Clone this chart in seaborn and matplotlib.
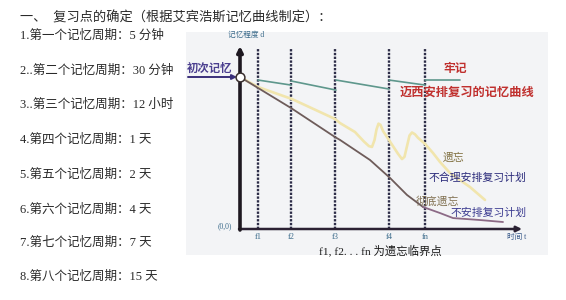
import matplotlib
matplotlib.use("Agg")
import matplotlib.pyplot as plt
import seaborn as sns
import pandas as pd

# ---------------- data ----------------
title_text = "一、  复习点的确定（根据艾宾浩斯记忆曲线制定）："
cycle_labels = [
    "1.第一个记忆周期：5 分钟",
    "2..第二个记忆周期：30 分钟",
    "3..第三个记忆周期：12 小时",
    "4.第四个记忆周期：1 天",
    "5.第五个记忆周期：2 天",
    "6.第六个记忆周期：4 天",
    "7.第七个记忆周期：7 天",
    "8.第八个记忆周期：15 天",
]

crit_t = [1.8, 5.1, 9.5, 14.9, 18.5]
crit_labels = ["f1", "f2", "f3", "f4", "fn"]

# no review plan (brown -> mauve)
no_review_t = [0, 1.8, 5.1, 9.5, 10.0, 13.0, 15.0, 16.7, 18.3]
no_review_d = [100, 92.8, 79.6, 60.5, 58.6, 45.4, 33.6, 22.4, 14.5]
no_review_tail_t = [18.3, 20.0, 21.3, 24.0, 26.3]
no_review_tail_d = [14.5, 10.5, 7.2, 5.9, 4.6]

# unreasonable review plan (yellow)
bad_review_t = [0, 1.8, 5.2, 9.5, 10.0, 11.5, 12.4, 12.9, 13.2, 13.45, 13.65, 13.85, 14.05,
                14.3, 14.7, 15.2, 15.8, 16.2, 16.45, 16.7, 16.95, 17.2, 17.5, 17.8,
                18.5, 19.3, 20.0, 21.0, 23.0, 24.5]
bad_review_d = [100, 93.4, 85.5, 72.4, 69.7, 63.8, 57.5, 54.5, 54.0, 58.5, 65.5, 69.3, 68.5,
                64.5, 60.5, 55.5, 49.5, 46.0, 47.5, 54.5, 61.5, 63.5, 62.3, 60.0,
                56.0, 50.0, 44.1, 36.8, 27.6, 19.1]

# planned review (teal saw-tooth segments)
planned_t = [1.8, 5.1, 5.1, 9.6, 9.6, 14.9, 14.9, 18.5, 18.5, 22.0]
planned_d = [98.0, 94.7, 97.4, 91.4, 98.0, 92.1, 98.0, 94.7, 98.0, 98.0]
planned_seg = [1, 1, 2, 2, 3, 3, 4, 4, 5, 5]

# ---------------- style ----------------
sns.set_theme(style="white")
plt.rcParams["font.family"] = ["Liberation Serif", "Noto Sans CJK SC", "DejaVu Sans"]
CJK = ["Liberation Serif", "Noto Sans CJK SC", "DejaVu Sans"]

W, H = 566, 300
fig = plt.figure(figsize=(W / 100, H / 100), dpi=100)
fig.patch.set_facecolor("white")

# left text block
fig.text(20 / W, 1 - 18 / H, title_text, fontsize=9.5, color="#2a2a2a",
         va="center", ha="left", family=CJK)
line_y = [36, 71, 105, 140, 175, 210, 243, 277]
for txt, y in zip(cycle_labels, line_y):
    fig.text(20 / W, 1 - y / H, txt, fontsize=9, color="#2a2a2a",
             va="center", ha="left", family=CJK)

# chart panel
x0, x1, y0, y1 = 186, 548, 32, 255
ax = fig.add_axes([x0 / W, 1 - y1 / H, (x1 - x0) / W, (y1 - y0) / H])
ax.set_facecolor("#f3f4f6")


def P(px, py):
    return ((px - 240) / 10, (229 - py) / 1.52)


ax.set_xlim(P(x0, 0)[0], P(x1, 0)[0])
ax.set_ylim(P(0, y1)[1], P(0, y0)[1])
for s in ax.spines.values():
    s.set_visible(False)
ax.set_xticks([])
ax.set_yticks([])

# critical dashed lines
top_d = P(0, 49)[1]
ax.vlines(crit_t, 0, top_d, colors="#2d2d48", linestyles=(0, (1.0, 0.6)), lw=1.7, zorder=2)

# curves
df_no = pd.DataFrame({"t": no_review_t, "d": no_review_d})
df_no_tail = pd.DataFrame({"t": no_review_tail_t, "d": no_review_tail_d})
df_bad = pd.DataFrame({"t": bad_review_t, "d": bad_review_d})
df_plan = pd.DataFrame({"t": planned_t, "d": planned_d, "seg": planned_seg})

sns.lineplot(data=df_bad, x="t", y="d", ax=ax, color="#f1e5ad", lw=1.9,
             sort=False, estimator=None, zorder=3)
sns.lineplot(data=df_no, x="t", y="d", ax=ax, color="#6e5c5a", lw=1.3,
             sort=False, estimator=None, zorder=4)
sns.lineplot(data=df_no_tail, x="t", y="d", ax=ax, color="#8c6a86", lw=1.3,
             sort=False, estimator=None, zorder=4)
sns.lineplot(data=df_plan, x="t", y="d", units="seg", ax=ax, color="#5e978c", lw=1.2,
             sort=False, estimator=None, zorder=4)
ax.set_xlabel("")
ax.set_ylabel("")

# axes arrows
ax.annotate("", xy=P(522, 229), xytext=P(239, 229),
            arrowprops=dict(arrowstyle="-|>", color="#2b2133", lw=1.8,
                            mutation_scale=8, shrinkA=0, shrinkB=0), zorder=5)
ax.annotate("", xy=P(240, 46), xytext=P(240, 230),
            arrowprops=dict(arrowstyle="-|>", color="#1e1820", lw=2.6,
                            mutation_scale=8, shrinkA=0, shrinkB=0), zorder=5)

# start point circle
sns.scatterplot(x=[no_review_t[0]], y=[no_review_d[0]], ax=ax, s=40, color="white",
                edgecolor="#3a3030", linewidth=1.1, zorder=6)

# start arrow
ax.annotate("", xy=P(237, 77), xytext=P(188, 77),
            arrowprops=dict(arrowstyle="-|>", color="#3a2f7a", lw=1.4,
                            mutation_scale=7, shrinkA=0, shrinkB=0), zorder=5)
ax.text(*P(210, 68), "初次记忆", fontsize=8.2, color="#4b3f8f", ha="center",
        va="center", fontweight="bold", family=CJK)

# axis labels
ax.text(*P(246, 35), "记忆程度 d", fontsize=5.5, color="#3a6a8a", ha="center",
        va="center", family=CJK)
ax.text(*P(225, 226), "(0,0)", fontsize=5.5, color="#3a6a8a", ha="center",
        va="center", family=CJK)
for t, lab in zip(crit_t, crit_labels):
    ax.text(t, P(0, 237)[1], lab, fontsize=6, color="#3a6a8a", ha="center",
            va="center", family=CJK)
ax.text(*P(517, 237), "时间 t", fontsize=5.5, color="#3a5a8a", ha="center",
        va="center", family=CJK)
ax.text(*P(380, 250), "f1, f2. . . fn 为遗忘临界点", fontsize=8.2, color="#1a1a1a",
        ha="center", va="center", family=CJK)

# annotations
ax.text(*P(455, 69), "牢记", fontsize=8.5, color="#c0302e", ha="center",
        va="center", fontweight="bold", family=CJK)
ax.text(*P(467, 93), "迈西安排复习的记忆曲线", fontsize=8.8, color="#c0302e",
        ha="center", va="center", fontweight="bold", family=CJK)
ax.text(*P(454, 158), "遗忘", fontsize=7.8, color="#807040", ha="center",
        va="center", family=CJK)
ax.text(*P(477, 178), "不合理安排复习计划", fontsize=7.8, color="#2a2a7a",
        ha="center", va="center", family=CJK)
ax.text(*P(437, 202), "彻底遗忘", fontsize=7.8, color="#807050", ha="center",
        va="center", family=CJK)
ax.text(*P(489, 213), "不安排复习计划", fontsize=7.8, color="#3a3a90",
        ha="center", va="center", family=CJK)

fig.savefig("out.png", dpi=100, facecolor="white")
